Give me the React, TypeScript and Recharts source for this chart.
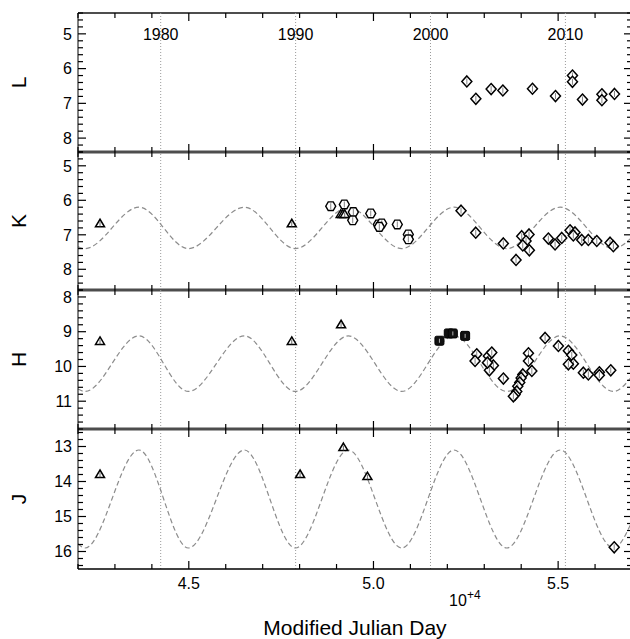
import React from 'react';
import { ComposedChart, Scatter, Line, XAxis, YAxis, ReferenceLine } from 'recharts';

const FONT = '"Liberation Sans", Arial, Helvetica, sans-serif';

// [MJD, magnitude]
const lDiamonds = [
  [52528, 6.37], [52772, 6.87], [53186, 6.59], [53503, 6.63], [54305, 6.58], [54928, 6.79],
  [55388, 6.2], [55388, 6.38], [55659, 6.89], [56185, 6.74], [56185, 6.91], [56526, 6.73],
];
const kTriangles = [[42596, 6.68], [47788, 6.68], [49113, 6.41], [49168, 6.41], [49222, 6.41]];
const kHexagons = [
  [48843, 6.17], [49211, 6.12], [49455, 6.34], [49438, 6.58], [49926, 6.38], [50132, 6.7],
  [50224, 6.67], [50159, 6.77], [50646, 6.7], [50944, 6.99], [50944, 7.13],
];
const kDiamonds = [
  [52371, 6.3], [52769, 6.94], [53516, 7.25], [53860, 7.73], [54014, 7.04], [54212, 6.99],
  [54131, 7.18], [54042, 7.31], [54221, 7.45], [54735, 7.11], [54917, 7.28], [55098, 7.09],
  [55322, 6.87], [55457, 6.93], [55411, 7.02], [55639, 7.15], [55818, 7.15], [56046, 7.18],
  [56406, 7.23], [56495, 7.33],
];
const hTriangles = [[42596, 9.28], [47788, 9.28], [49123, 8.8]];
const hSquares = [[51786, 9.26], [52039, 9.05], [52149, 9.05], [52482, 9.12]];
const hDiamonds = [
  [52796, 9.65], [52751, 9.84], [53111, 9.7], [53203, 9.6], [53247, 9.97], [53139, 10.11],
  [53085, 9.89], [53518, 10.35], [54196, 9.62], [54196, 9.84], [54288, 10.13], [54044, 10.23],
  [53998, 10.33], [53961, 10.46], [53907, 10.57], [53880, 10.72], [53834, 10.81], [53788, 10.86],
  [54647, 9.18], [55007, 9.41], [55277, 9.55], [55369, 9.67], [55412, 9.92], [55277, 9.94],
  [55683, 10.18], [55818, 10.23], [56116, 10.17], [56116, 10.25], [56425, 10.11],
];
const jTriangles = [[42596, 13.8], [48013, 13.8], [49186, 13.03], [49836, 13.86]];
const jDiamonds = [[56518, 15.88]];

// model light curve, read at its turning points
const modelMjd = [42000, 42190, 43650, 44988, 46505, 47886, 49320, 50767, 52180, 53610, 55055, 56500, 57000];
const modelK = [7.35, 7.4, 6.2, 7.4, 6.2, 7.4, 6.2, 7.4, 6.2, 7.4, 6.2, 7.4, 7.07];
const modelH = [10.65, 10.72, 9.12, 10.72, 9.12, 10.72, 9.12, 10.72, 9.12, 10.72, 9.12, 10.72, 10.28];
const modelJ = [15.78, 15.9, 13.1, 15.9, 13.1, 15.9, 13.1, 15.9, 13.1, 15.9, 13.1, 15.9, 15.14];

const yearMjd = [44239, 47892, 51544, 55197];
const yearLabels = ['1980', '1990', '2000', '2010'];

const xMajor = [45000, 50000, 55000];
const xMajorLabels = ['4.5', '5.0', '5.5'];

const PLOT_L = 78;
const PLOT_R = 632;

const pts = (arr: number[][]) => arr.map(([mjd, mag]) => ({ mjd, mag }));
const model = (vals: number[]) => modelMjd.map((mjd, i) => ({ mjd, v: vals[i] }));

const stepTicks = (a: number, b: number, s: number) => {
  const out: number[] = [];
  let v = Math.ceil(a / s - 1e-6) * s;
  while (v <= b + 1e-6) {
    out.push(Math.round(v * 10) / 10);
    v += s;
  }
  return out;
};

const ErrTick = ({ cx, cy }: any) => (
  <line x1={cx} x2={cx} y1={cy - 3} y2={cy + 3} stroke="#666" strokeWidth={0.8} />
);

const Diamond = ({ cx, cy }: any) => (
  <g>
    <polygon
      points={`${cx},${cy - 5.5} ${cx + 5},${cy} ${cx},${cy + 5.5} ${cx - 5},${cy}`}
      fill="#fff" stroke="#000" strokeWidth={1.5}
    />
    <ErrTick cx={cx} cy={cy} />
  </g>
);

const Hexagon = ({ cx, cy }: any) => {
  const r = 5;
  const p = [0, 60, 120, 180, 240, 300]
    .map((a) => `${cx + r * Math.cos((a * Math.PI) / 180)},${cy + r * Math.sin((a * Math.PI) / 180)}`)
    .join(' ');
  return (
    <g>
      <polygon points={p} fill="#fff" stroke="#000" strokeWidth={1.4} />
      <ErrTick cx={cx} cy={cy} />
    </g>
  );
};

const Triangle = ({ cx, cy }: any) => (
  <g>
    <polygon
      points={`${cx},${cy - 4.5} ${cx + 4.5},${cy + 3} ${cx - 4.5},${cy + 3}`}
      fill="#fff" stroke="#000" strokeWidth={1.5}
    />
    <line x1={cx} x2={cx} y1={cy - 2} y2={cy + 3} stroke="#444" strokeWidth={0.8} />
  </g>
);

const Square = ({ cx, cy }: any) => (
  <g>
    <rect x={cx - 4.5} y={cy - 4.5} width={9} height={9} rx={1.5} fill="#111" stroke="#000" strokeWidth={1} />
    <line x1={cx} x2={cx} y1={cy - 2} y2={cy + 2} stroke="#ddd" strokeWidth={0.8} />
  </g>
);

interface PanelDef {
  name: string;
  top: number;
  bottom: number;
  domain: [number, number];
  series: { data: number[][]; shape: any }[];
  curve?: number[];
}

const panels: PanelDef[] = [
  { name: 'L', top: 13, bottom: 152, domain: [4.4, 8.4], series: [{ data: lDiamonds, shape: Diamond }] },
  {
    name: 'K', top: 152, bottom: 290, domain: [4.6, 8.6], curve: modelK,
    series: [
      { data: kTriangles, shape: Triangle },
      { data: kHexagons, shape: Hexagon },
      { data: kDiamonds, shape: Diamond },
    ],
  },
  {
    name: 'H', top: 290, bottom: 429, domain: [7.8, 11.8], curve: modelH,
    series: [
      { data: hTriangles, shape: Triangle },
      { data: hSquares, shape: Square },
      { data: hDiamonds, shape: Diamond },
    ],
  },
  {
    name: 'J', top: 429, bottom: 569, domain: [12.5, 16.5], curve: modelJ,
    series: [
      { data: jTriangles, shape: Triangle },
      { data: jDiamonds, shape: Diamond },
    ],
  },
];

const xTicks = stepTicks(42000, 57000, 1000);

const Panel = ({ p }: { p: PanelDef }) => {
  const last = p.name === 'J';
  const yTicks = stepTicks(p.domain[0], p.domain[1], 0.2);
  const mid = (p.top + p.bottom) / 2;

  const renderXTick = (props: any) => {
    const { x, payload } = props;
    const i = xMajor.indexOf(payload.value);
    const len = i >= 0 ? 8 : 5;
    return (
      <g>
        <line x1={x} x2={x} y1={p.bottom} y2={p.bottom - len} stroke="#000" strokeWidth={1.2} />
        <line x1={x} x2={x} y1={p.top} y2={p.top + len} stroke="#000" strokeWidth={1.2} />
        {last && i >= 0 && (
          <text x={x} y={589} textAnchor="middle" fontFamily={FONT} fontSize={16} fill="#000">
            {xMajorLabels[i]}
          </text>
        )}
      </g>
    );
  };

  const renderYTick = (props: any) => {
    const { y, payload } = props;
    const v = payload.value;
    const major = Math.abs(v - Math.round(v)) < 1e-6;
    const len = major ? 8 : 5;
    return (
      <g>
        <line x1={PLOT_L} x2={PLOT_L + len} y1={y} y2={y} stroke="#000" strokeWidth={1.2} />
        <line x1={PLOT_R} x2={PLOT_R - len} y1={y} y2={y} stroke="#000" strokeWidth={1.2} />
        {major && (
          <text x={72} y={y} dy="0.36em" textAnchor="end" fontFamily={FONT} fontSize={16} fill="#000">
            {Math.round(v)}
          </text>
        )}
      </g>
    );
  };

  const renderName = () => (
    <text
      x={18} y={mid} dy="0.36em" textAnchor="middle" transform={`rotate(-90, 18, ${mid})`}
      fontFamily={FONT} fontSize={21} fill="#000"
    >
      {p.name}
    </text>
  );

  const renderXTitle = () => (
    <g fontFamily={FONT} fill="#000">
      <text x={449} y={606} fontSize={16}>10</text>
      <text x={467} y={599} fontSize={12}>+4</text>
      <text x={355} y={635} textAnchor="middle" fontSize={21}>Modified Julian Day</text>
    </g>
  );

  return (
    <div style={{ position: 'absolute', left: 0, top: 0 }}>
      <ComposedChart
        width={640}
        height={639}
        margin={{ top: p.top, bottom: 639 - p.bottom - 2, left: 0, right: 640 - PLOT_R }}
      >
        <XAxis
          type="number" dataKey="mjd" domain={[42000, 57000]} ticks={xTicks} interval={0}
          height={2} tickLine={false} tick={renderXTick}
          axisLine={{ stroke: last ? '#000' : '#4d4d4d', strokeWidth: last ? 1.5 : 3 }}
          label={last ? renderXTitle : undefined}
        />
        <YAxis
          type="number" dataKey="mag" domain={p.domain} reversed ticks={yTicks} interval={0}
          width={PLOT_L} tickLine={false} tick={renderYTick}
          axisLine={{ stroke: '#000', strokeWidth: 1 }}
          label={renderName}
        />
        {p.name === 'L' && <ReferenceLine y={p.domain[0]} stroke="#4d4d4d" strokeWidth={2} />}
        {yearMjd.map((m, i) => (
          <ReferenceLine
            key={m} x={m} stroke="#9a9a9a" strokeWidth={1} strokeDasharray="1 2"
            label={p.name === 'L'
              ? (lp: any) => (
                <text x={lp.viewBox.x} y={40} textAnchor="middle" fontFamily={FONT} fontSize={16} fill="#000">
                  {yearLabels[i]}
                </text>
              )
              : undefined}
          />
        ))}
        {p.curve && (
          <Line
            data={model(p.curve)} dataKey="v" type="monotone" stroke="#8c8c8c" strokeWidth={1.2}
            strokeDasharray="5 3" dot={false} activeDot={false} isAnimationActive={false}
          />
        )}
        {p.series.map((s, i) => (
          <Scatter
            key={i} data={pts(s.data)} dataKey="mag" shape={(sp: any) => <s.shape cx={sp.cx} cy={sp.cy} />}
            isAnimationActive={false}
          />
        ))}
      </ComposedChart>
    </div>
  );
}

export default function App() {
  return (
    <div style={{ position: 'absolute', left: 0, top: 0, width: 630, height: 639, overflow: 'hidden', background: '#fff' }}>
      {panels.map((p) => (
        <Panel key={p.name} p={p} />
      ))}
    </div>
  );
}
